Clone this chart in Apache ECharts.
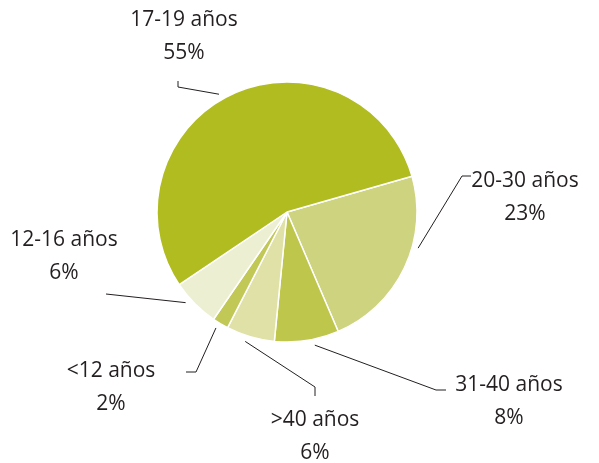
<!DOCTYPE html>
<html>
<head>
<meta charset="utf-8">
<script src="https://cdn.jsdelivr.net/npm/echarts@6/dist/echarts.min.js"></script>
<style>
html, body { margin: 0; padding: 0; background: #fff; }
#chart { width: 599px; height: 463px; }
</style>
</head>
<body>
<div id="chart"></div>
<script>
// grupos de edad, en el orden en que van alrededor de la tarta
var categories = ['20-30 años', '31-40 años', '>40 años', '<12 años', '12-16 años', '17-19 años'];
var values = [23, 8, 6, 2, 6, 55];
var colors = ['#cdd37e', '#bec64b', '#dfe1a6', '#c1c855', '#edefd2', '#b0bc1f'];

// donde va cada etiqueta (centro del bloque de texto)
var labelPos = [
    [525, 198],
    [509, 402],
    [315, 437],
    [111, 388],
    [64, 257],
    [184, 37]
];
// codo y final de cada linea guia
var lineBends = [
    [[462, 176], [471, 176]],
    [[436, 390], [446, 390]],
    [[315, 387], [315, 396]],
    [[196, 372], [186, 372]],
    [[106, 294], [106, 294]],
    [[178, 87], [178, 81]]
];
// pequeño giro del arranque de la linea respecto al centro del sector (grados)
var lineNudge = [10, 3, -1.5, -0.7, -3, 5];

var CX = 287, CY = 212, R = 130, START = 16;

var total = values.reduce(function (a, b) { return a + b; }, 0);
// angulo medio de cada sector (grados, sentido antihorario desde las 3)
var midAngles = [];
var acc = 0;
values.forEach(function (v) {
    midAngles.push(START - (acc + v / 2) / total * 360);
    acc += v;
});

var chart = echarts.init(document.getElementById('chart'));

var option = {
    animation: false,
    series: [{
        type: 'pie',
        center: [CX, CY],
        radius: R,
        startAngle: START,
        clockwise: true,
        avoidLabelOverlap: false,
        data: categories.map(function (name, i) {
            return { name: name, value: values[i], itemStyle: { color: colors[i] } };
        }),
        itemStyle: { borderColor: '#fff', borderWidth: 1.5 },
        label: {
            formatter: '{b}\n{c}%',
            fontFamily: 'Open Sans',
            fontSize: 21,
            lineHeight: 33,
            color: '#231f20',
            align: 'center'
        },
        labelLine: {
            show: true,
            lineStyle: { color: '#231f20', width: 1 }
        },
        labelLayout: function (params) {
            var i = params.dataIndex;
            var p = labelPos[i];
            var a = (midAngles[i] + lineNudge[i]) * Math.PI / 180;
            var r = R + 6;
            var start = [CX + r * Math.cos(a), CY - r * Math.sin(a)];
            return {
                x: p[0], y: p[1], align: 'center', verticalAlign: 'middle',
                labelLinePoints: [start, lineBends[i][0], lineBends[i][1]]
            };
        },
        emphasis: { disabled: true }
    }]
};

chart.setOption(option);
</script>
</body>
</html>
